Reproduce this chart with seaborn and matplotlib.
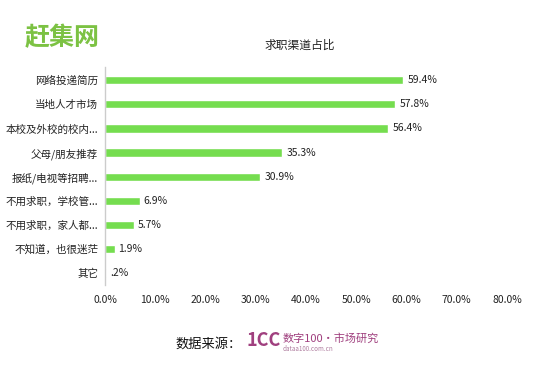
import matplotlib
matplotlib.use("Agg")
import matplotlib.pyplot as plt
import seaborn as sns
import pandas as pd

categories = ["网络投递简历", "当地人才市场", "本校及外校的校内...", "父母/朋友推荐",
              "报纸/电视等招聘...", "不用求职，学校管...", "不用求职，家人都...",
              "不知道，也很迷茫", "其它"]
values = [59.4, 57.8, 56.4, 35.3, 30.9, 6.9, 5.7, 1.9, 0.2]
value_labels = ["59.4%", "57.8%", "56.4%", "35.3%", "30.9%", "6.9%", "5.7%", "1.9%", ".2%"]
xticks = [0, 10, 20, 30, 40, 50, 60, 70, 80]

sns.set_theme(style="white")
plt.rcParams['font.family'] = ['Noto Sans CJK SC', 'DejaVu Sans']

df = pd.DataFrame({"cat": categories, "val": values})
fig = plt.figure(figsize=(5.45, 3.70), dpi=100)
ax = fig.add_axes([105/545, 1-285/370, (507-105)/545, (285-67)/370])
sns.barplot(data=df, y="cat", x="val", color="#75DD4F", saturation=1, width=0.34, ax=ax, orient="h")
for i, (v, lab) in enumerate(zip(values, value_labels)):
    ax.text(v + 0.8, i, lab, va="center", ha="left", fontsize=7.5, color="#222222")
ax.set_xlim(0, 80)
ax.set_xticks(xticks)
ax.set_xticklabels([f"{t:.1f}%" for t in xticks], fontsize=7.5, color="#222222")
ax.tick_params(axis="y", labelsize=7.6, colors="#222222", length=0, pad=5)
ax.tick_params(axis="x", length=0, pad=7)
ax.set_xlabel("")
ax.set_ylabel("")
for s in ["top", "right", "bottom"]:
    ax.spines[s].set_visible(False)
ax.spines["left"].set_color("#CCCCCC")
ax.spines["left"].set_linewidth(1)
ax.set_ylim(len(categories) - 0.5, -0.55)

fig.text(300/545, 1-45/370, "求职渠道占比", ha="center", va="center", fontsize=8.5, color="#222222")
fig.text(25/545, 1-38/370, "赶集网", ha="left", va="center", fontsize=18, fontweight="bold", color="#7CC243")
fig.text(175/545, 1-344/370, "数据来源：", ha="left", va="center", fontsize=9.5, color="#111111")
fig.text(247/545, 1-340/370, "1CC", ha="left", va="center", fontsize=13, fontweight="bold", color="#A0407F", style="italic")
fig.text(283/545, 1-338/370, "数字100·市场研究", ha="left", va="center", fontsize=8, color="#A0407F", style="italic")
fig.text(283/545, 1-349/370, "dataa100.com.cn", ha="left", va="center", fontsize=4.5, color="#B07FA0", style="italic")

fig.savefig("out.png", dpi=100)
